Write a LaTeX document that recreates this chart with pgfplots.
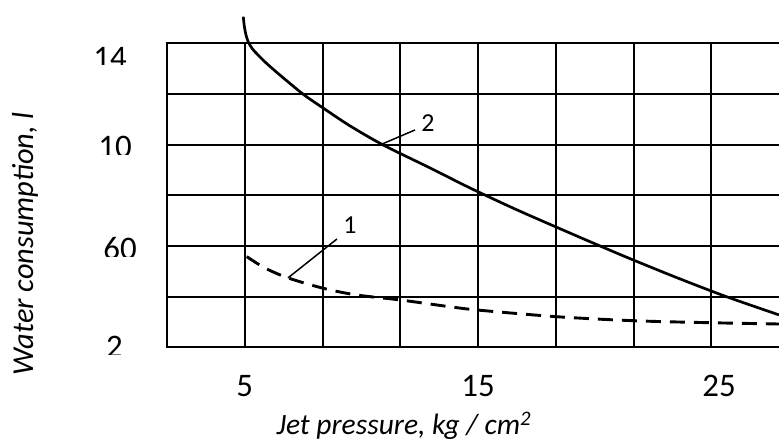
\documentclass[border=0pt]{standalone}
\usepackage{pgfplots}
\pgfplotsset{compat=1.18}
\usepackage{fontspec}
\setmainfont{Carlito}
\newcommand\cutlbl[1]{\begin{tikzpicture}[baseline=0pt]
 \node[inner sep=0pt,anchor=base west] (t) at (0,0) {\phantom{#1}};
 \begin{pgfinterruptboundingbox}
 \begin{scope}
 \clip ([yshift=3.2bp,xshift=-2bp]t.base west) rectangle ([yshift=3bp,xshift=2bp]t.north east);
 \node[inner sep=0pt,anchor=base west] at (0,0) {#1};
 \end{scope}
 \end{pgfinterruptboundingbox}
\end{tikzpicture}}
\begin{document}
\begin{tikzpicture}
\begin{axis}[
 scale only axis, width=612bp, height=304bp,
 xmin=0, xmax=7.871, ymin=20, ymax=140,
 xtick={0,1,...,7}, ytick={20,40,...,140},
 xticklabels={}, yticklabels={},
 grid=major, grid style={black, line width=2bp, line cap=rect},
 axis line style={draw=none},
 major tick length=0pt,
 extra x ticks={1,4,7.1}, extra x tick labels={5,15,25},
 extra x tick style={grid=none, major tick length=0pt},
 extra y ticks={134.4,98.9,58.8,20},
 extra y tick labels={\cutlbl{14}\kern10bp,\cutlbl{10}\kern5bp,\cutlbl{60},\cutlbl{2}\kern14bp},
 extra y tick style={grid=none, major tick length=0pt},
 xticklabel style={font=\fontsize{33}{36}\selectfont, inner sep=0pt, anchor=north, yshift=-28bp},
 yticklabel style={font=\fontsize{33}{36}\selectfont, inner sep=0pt, anchor=east, xshift=-30bp},
 xlabel={Jet pressure, kg / cm\textsuperscript{2}},
 ylabel={Water consumption, l},
 xlabel style={font=\fontsize{29.6}{34}\selectfont\itshape, at={(axis description cs:0.387,-0.258)}, anchor=center},
 ylabel style={font=\fontsize{30.5}{34}\selectfont\itshape, at={(axis description cs:-0.232,0.341)}, anchor=center},
 clip=false,
]
% curve 2 (solid)
\addplot[black, line width=2.7bp, smooth, tension=0.5] coordinates {
 (0.981,150.50) (0.994,146.83) (1.016,143.28) (1.048,140.32) (1.100,137.75)
 (1.171,135.38) (1.282,132.03) (1.453,127.46) (1.753,119.87) (2.006,114.5)
 (2.354,107.4) (2.778,99.9) (3.383,90.8) (3.897,82.9) (4.476,74.6)
 (5.003,67.5) (5.569,60.0) (5.994,54.5) (6.598,47.0) (7.203,39.9) (7.871,32.8)
};
% curve 1 (dashed)
\addplot[black, line width=2.9bp, smooth, tension=0.5, dash pattern=on 15bp off 9bp] coordinates {
 (1.025,55.8) (1.260,51.3) (1.556,47.4) (2.010,43.3) (2.440,40.65)
 (2.997,38.7) (3.640,36.0) (4.000,34.7) (5.003,32.1) (5.994,30.5)
 (6.997,29.7) (7.871,29.2)
};
\node[font=\fontsize{26}{30}\selectfont, inner sep=0pt] at (axis cs:2.354,68.3) {1};
\draw[black, line width=1.5bp] (axis cs:2.186,62.76) -- (axis cs:1.556,47.4);
\node[font=\fontsize{26}{30}\selectfont, inner sep=0pt] at (axis cs:3.357,108.5) {2};
\draw[black, line width=1.5bp] (axis cs:3.190,105.8) -- (axis cs:2.740,99.9);
\coordinate (bbl) at (axis cs:-2.148,-18.56);
\coordinate (btr) at (axis cs:7.871,157.1);
\end{axis}
\pgfresetboundingbox
\path[use as bounding box] (bbl) rectangle (btr);
\end{tikzpicture}
\end{document}
